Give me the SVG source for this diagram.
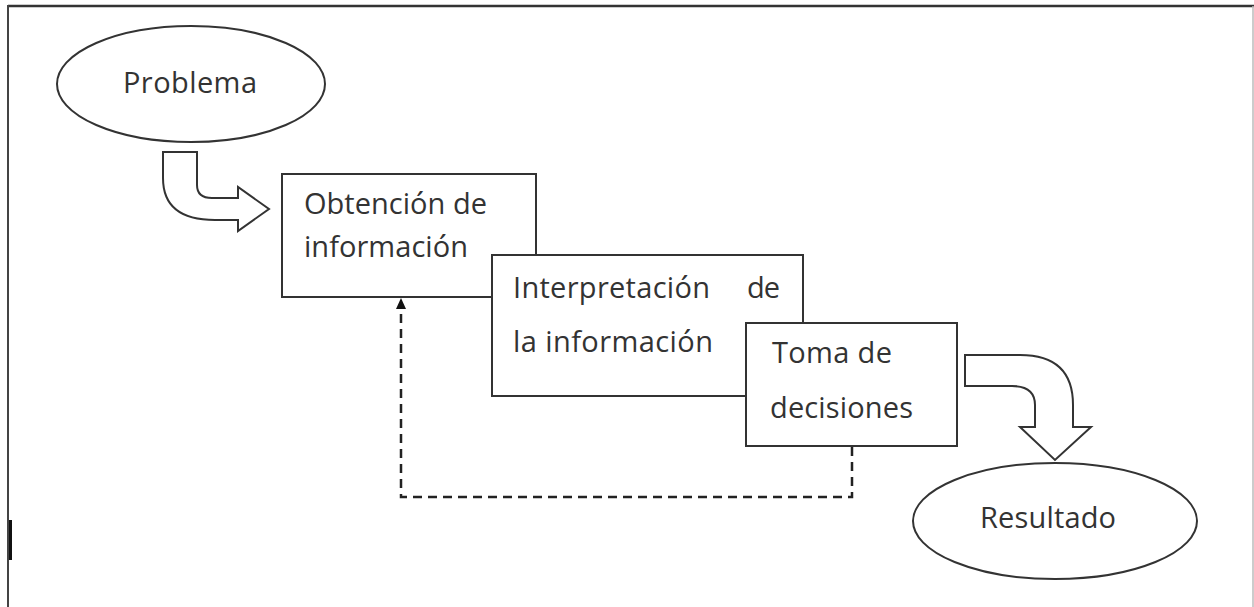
<svg xmlns="http://www.w3.org/2000/svg" width="1254" height="607" viewBox="0 0 1254 607">
<defs>
<style>
.ln{fill:#fff;stroke:#333;stroke-width:2}
.tx{font-family:"Open Sans","DejaVu Sans",sans-serif;font-size:29px;fill:#333}
.dash{fill:none;stroke:#222;stroke-width:2.5;stroke-dasharray:9,6}
</style>
<marker id="ah" markerWidth="10" markerHeight="10" refX="5" refY="1" orient="auto-start-reverse" markerUnits="userSpaceOnUse" viewBox="0 0 10 10">
<path d="M0,10 L5,0 L10,10 Z" fill="#111"/>
</marker>
</defs>
<rect x="0" y="0" width="1254" height="607" fill="#fff"/>
<g id="frame">
<line x1="8" y1="6" x2="1254" y2="6" stroke="#333" stroke-width="2.5"/>
<line x1="8" y1="5" x2="8" y2="607" stroke="#444" stroke-width="2"/>
<line x1="1253" y1="6" x2="1253" y2="607" stroke="#bbb" stroke-width="1.5"/>
<rect x="9" y="520" width="3" height="40" fill="#111"/>
</g>
<g id="connectors">
<path class="ln" d="M163,152 L197,152 L197,185 Q197,198 212,198 L238,198 L238,187 L269,209 L238,231 L238,220 L215,220 Q163,220 163,178 Z"/>
<path class="ln" d="M965,355 L1020,355 Q1073,355 1073,405 L1073,427 L1091,427 L1055,460 L1020,427 L1035,427 L1035,405 Q1035,386 1012,386 L965,386 Z"/>
<path class="dash" d="M852,447 L852,497 L401,497 L401,306"/>
<path d="M396,309 L401,298 L406,309 Z" fill="#111"/>
</g>
<g id="problema">
<ellipse class="ln" cx="191" cy="84" rx="134" ry="58"/>
<text class="tx" x="123" y="93" textLength="134">Problema</text>
</g>
<g id="obtencion">
<rect class="ln" x="282" y="174" width="254" height="123"/>
<text class="tx" x="304" y="214" textLength="183">Obtención de</text>
<text class="tx" x="304" y="257" textLength="164">información</text>
</g>
<g id="interpretacion">
<rect class="ln" x="492" y="255" width="311" height="141"/>
<text class="tx" x="513" y="298" textLength="197">Interpretación</text>
<text class="tx" x="747" y="298" textLength="33">de</text>
<text class="tx" x="513" y="352" textLength="200">la información</text>
</g>
<g id="toma">
<rect class="ln" x="746" y="323" width="211" height="123"/>
<text class="tx" x="772" y="363" textLength="120">Toma de</text>
<text class="tx" x="770" y="418" textLength="143">decisiones</text>
</g>
<g id="resultado">
<ellipse class="ln" cx="1055" cy="521" rx="142" ry="58"/>
<text class="tx" x="980" y="528" textLength="136">Resultado</text>
</g>
</svg>
